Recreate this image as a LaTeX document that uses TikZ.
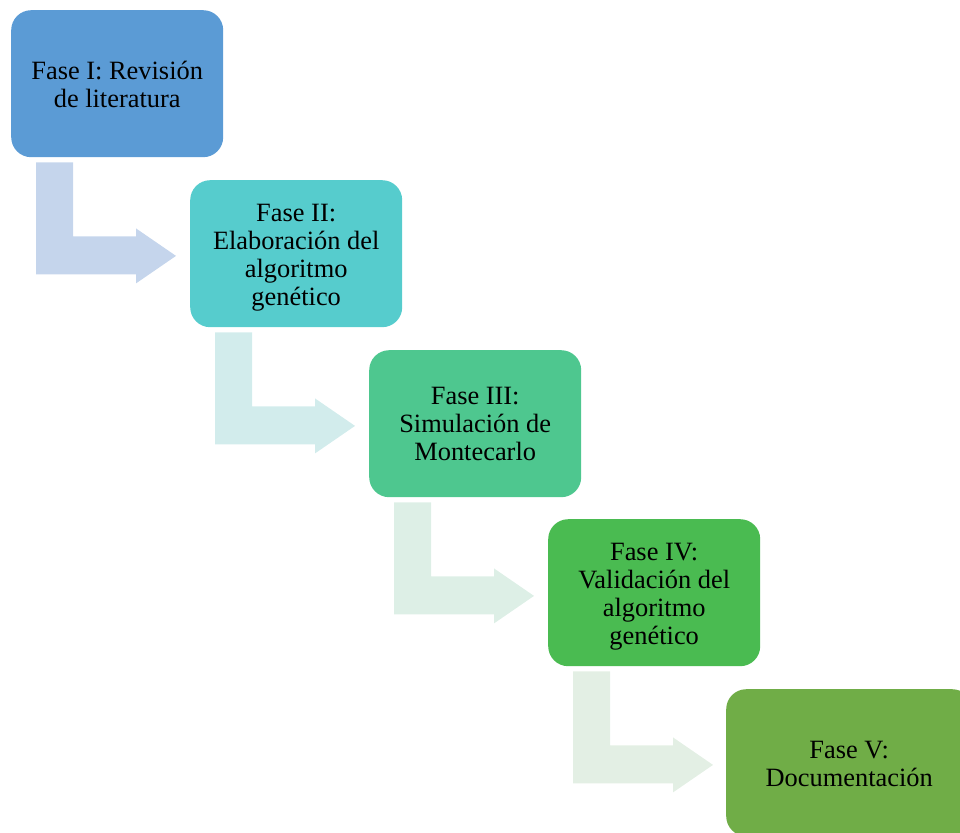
\documentclass[tikz,border=0pt]{standalone}
\usepackage{fontspec}
\setmainfont{Liberation Serif}
\begin{document}
\begin{tikzpicture}[x=1pt,y=-1pt,
  phase/.style={rectangle, rounded corners=20pt, anchor=north west,
    minimum width=212pt, minimum height=147pt, inner sep=0pt},
  txt/.style={align=center, inner sep=0pt, text=black,
    font=\fontsize{26.4}{28}\selectfont}
]
\definecolor{c1}{HTML}{5B9BD5}
\definecolor{c2}{HTML}{56CCCD}
\definecolor{c3}{HTML}{4EC78F}
\definecolor{c4}{HTML}{4ABB51}
\definecolor{c5}{HTML}{70AD47}
\definecolor{a1}{HTML}{C5D5EC}
\definecolor{a2}{HTML}{D2ECEC}
\definecolor{a3}{HTML}{DDEFE6}
\definecolor{a4}{HTML}{E3EFE4}
\definecolor{a5}{HTML}{E9EFE7}
\useasboundingbox (0,0) rectangle (960,832);
\clip (0,0) rectangle (960,832);

% phase boxes
\node[phase, fill=c1] (b1) at (11,10) {};
\node[phase, fill=c2] (b2) at (190,180) {};
\node[phase, fill=c3] (b3) at (369,350) {};
\node[phase, fill=c4] (b4) at (548,519) {};
\node[phase, fill=c5, minimum width=246pt] (b5) at (726,689) {};

% phase titles
\node[txt] (t1) at ([yshift=-1pt]b1.center) {Fase I: Revisión\\de literatura};
\node[txt] (t2) at ([yshift=-4pt]b2.center) {Fase II:\\Elaboración del\\algoritmo\\genético};
\node[txt] (t3) at (b3.center) {Fase III:\\Simulación de\\Montecarlo};
\node[txt] (t4) at ([yshift=-4pt]b4.center) {Fase IV:\\Validación del\\algoritmo\\genético};
\node[txt] (t5) at ([yshift=-1pt]b5.center) {Fase V:\\Documentación};

% bent arrows between consecutive phases
\foreach \from/\col in {b1/a1, b2/a2, b3/a3, b4/a4}{
  \fill[\col, shift={(\from.south west)}]
    (25,5) -- (62,5) -- (62,79) -- (125,79) -- (125,71) -- (165,98.5)
    -- (125,126) -- (125,117) -- (25,117) -- cycle;
}
\end{tikzpicture}
\end{document}
